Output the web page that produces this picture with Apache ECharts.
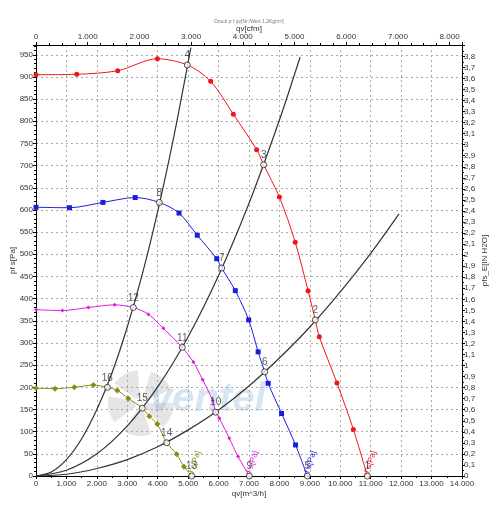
<!DOCTYPE html>
<html>
<head>
<meta charset="utf-8">
<script src="https://cdn.jsdelivr.net/npm/echarts@6/dist/echarts.min.js"></script>
<style>
  html, body { margin: 0; padding: 0; background: #fff; }
  #main { width: 498px; height: 513px; }
</style>
</head>
<body>
<div id="main"></div>
<script>
// fan curves: measured points [q m3/h, p Pa]
var redPts = [[0,905],[1340,906],[2685,914],[3990,941],[5740,890],[6485,816],[7250,736],[8000,629],[8520,527],[8940,418],[9310,314],[9890,210],[10430,105]];
var bluePts = [[0,606],[1100,605],[2200,617],[3260,628],[4700,593],[5300,543],[5940,490],[6550,418],[6990,352],[7300,280],[7630,209],[8070,141],[8530,70]];
var magentaPts = [[0,375],[866,373],[1720,380],[2585,386],[3691,365],[4184,333],[5170,257],[5477,217],[5806,170],[6025,130],[6354,85],[6640,44]];
var olivePts = [[0,198],[624,197],[1260,200],[1884,205],[2672,193],[3033,175],[3724,135],[3987,117],[4623,49],[4864,21]];

// operating points (intersection with system curves)
var redOps = [[4973,927],[7482,702],[9180,352],[10890,0]];
var blueOps = [[4053,617],[6102,469],[7515,235],[8916,0]];
var magentaOps = [[3198,380],[4808,290],[5905,144],[7010,0]];
var oliveOps = [[2344,200],[3494,153],[4294,75],[5116,0]];
var redOpLabels = ['4','3','2','1'];
var blueOpLabels = ['8','7','6','5'];
var magentaOpLabels = ['12','11','10','9'];
var oliveOpLabels = ['16','15','14','13'];

// system curves
var sysSteep = [[0,0],[500,9],[1000,37],[1500,84],[2000,150],[2500,233],[3000,336],[3500,457],[4000,597],[4500,755],[5090,966]];
var sysMid = [[0,0],[1000,13],[2000,50],[3000,113],[4000,201],[5000,314],[6000,452],[7000,615],[8000,803],[8680,945]];
var sysFlat = [[0,0],[1000,4],[2000,17],[3000,37],[4000,66],[5000,104],[6000,149],[7000,203],[8000,266],[9000,336],[10000,415],[11000,502],[11930,591]];

var curveLabel = 'pf s[Pa]';
var FONT = '"Liberation Sans", Arial, sans-serif';

function fmtDot(v) {
  if (v === 0) return '0';
  var k = Math.floor(v / 1000), r = Math.round(v % 1000);
  return k + '.' + ('00' + r).slice(-3);
}
function fmtComma(v) {
  if (v > 3.85) return '';
  return String(Math.round(v * 10) / 10).replace('.', ',');
}

function fanSeries(name, pts, ops, color, symbol, size) {
  var data = pts.map(function (p) { return { value: p }; })
    .concat(ops.map(function (p) { return { value: p, symbol: 'none' }; }));
  data.sort(function (a, b) { return a.value[0] - b.value[0]; });
  var last = data[data.length - 1];
  last.symbol = 'circle';
  last.symbolSize = 2;
  last.itemStyle = { color: 'transparent' };
  last.label = {
    show: true, formatter: curveLabel, rotate: 73, position: 'right',
    align: 'left', verticalAlign: 'top', offset: [-2, -7], distance: 1,
    color: color, fontSize: 8, fontFamily: FONT
  };
  return {
    name: name, type: 'line', smooth: 0.3, data: data,
    symbol: symbol, symbolSize: size, showAllSymbol: true,
    lineStyle: { color: color, width: 1 },
    itemStyle: { color: color },
    z: 3
  };
}

function sysSeries(pts) {
  return {
    type: 'line', smooth: 0.3, data: pts, symbol: 'none',
    lineStyle: { color: '#333', width: 1.2 }, z: 2
  };
}

function opSeries(ops, labels) {
  return {
    type: 'scatter', symbol: 'circle', symbolSize: 6, z: 5,
    data: ops.map(function (p, i) { return { value: p, name: labels[i] }; }),
    itemStyle: { color: '#fff', borderColor: '#222', borderWidth: 1 },
    label: { show: true, position: 'top', distance: 1, formatter: '{b}', color: '#333', fontSize: 10, fontFamily: FONT }
  };
}

var blades = [];
for (var i = 0; i < 5; i++) {
  blades.push({
    type: 'sector',
    shape: { cx: 32, cy: 32, r: 33, r0: 6, startAngle: (i * 72) * Math.PI / 180, endAngle: (i * 72 + 48) * Math.PI / 180 },
    style: { fill: 'rgba(150,150,150,0.25)' }
  });
}

var nameStyle = { fontSize: 8, color: '#333' };

var myChart = echarts.init(document.getElementById('main'), null, { renderer: 'canvas' });
var option = {
  animation: false,
  textStyle: { fontFamily: FONT },
  title: {
    text: 'Druck p f qv[Nr./Wert 1,2Kg/m³]', left: 'center', top: 14,
    textStyle: { fontSize: 5, color: '#777', fontWeight: 'normal', fontFamily: FONT }
  },
  grid: { left: 36, right: 36, top: 45, bottom: 37, outerBoundsMode: 'none', containLabel: false },
  graphic: [
    { type: 'group', left: 108, top: 370, z: 0, children: blades },
    { type: 'text', left: 150, top: 380, z: 0,
      style: { text: 'ventel', font: 'italic bold 40px "Liberation Sans", Arial', fill: 'rgba(140,180,220,0.35)' } }
  ],
  xAxis: [
    {
      type: 'value', position: 'bottom', min: 0, max: 14000, interval: 1000,
      name: 'qv[m^3/h]', nameLocation: 'middle', nameGap: 14, nameMoveOverlap: false,
      nameTextStyle: nameStyle,
      axisLine: { show: true, onZero: false, lineStyle: { color: '#000' } },
      axisTick: { show: true, length: 3, lineStyle: { color: '#000' } },
      minorTick: { show: true, splitNumber: 2, length: 2, lineStyle: { color: '#000' } },
      axisLabel: { fontSize: 8, color: '#333', margin: 4, formatter: fmtDot },
      splitLine: { show: true, lineStyle: { color: '#aaa', type: [2, 3] } }
    },
    {
      type: 'value', position: 'top', min: 0, max: 8240, interval: 1000,
      name: 'qv[cfm]', nameLocation: 'middle', nameGap: 12, nameMoveOverlap: false,
      nameTextStyle: nameStyle,
      axisLine: { show: true, onZero: false, lineStyle: { color: '#000' } },
      axisTick: { show: true, length: 3, lineStyle: { color: '#000' } },
      minorTick: { show: true, splitNumber: 4, length: 2, lineStyle: { color: '#000' } },
      axisLabel: { fontSize: 8, color: '#333', margin: 4, formatter: fmtDot, showMaxLabel: false },
      splitLine: { show: false }
    }
  ],
  yAxis: [
    {
      type: 'value', position: 'left', min: 0, max: 972, interval: 50,
      name: 'pf s[Pa]', nameLocation: 'middle', nameGap: 19, nameRotate: 90, nameMoveOverlap: false,
      nameTextStyle: nameStyle,
      axisLine: { show: true, onZero: false, lineStyle: { color: '#000' } },
      axisTick: { show: true, length: 3, lineStyle: { color: '#000' } },
      minorTick: { show: true, splitNumber: 5, length: 2, lineStyle: { color: '#000' } },
      axisLabel: { fontSize: 8, color: '#333', margin: 3, showMaxLabel: false },
      splitLine: { show: true, lineStyle: { color: '#aaa', type: [2, 3] } }
    },
    {
      type: 'value', position: 'right', min: 0, max: 3.9026, interval: 0.1,
      name: 'pfs_E[IN H2O]', nameLocation: 'middle', nameGap: 19, nameRotate: 90, nameMoveOverlap: false,
      nameTextStyle: nameStyle,
      axisLine: { show: true, onZero: false, lineStyle: { color: '#000' } },
      axisTick: { show: true, length: 3, lineStyle: { color: '#000' } },
      minorTick: { show: true, splitNumber: 2, length: 2, lineStyle: { color: '#000' } },
      axisLabel: { fontSize: 8, color: '#333', margin: 2, interval: 0, showMaxLabel: false, formatter: fmtComma },
      splitLine: { show: false }
    }
  ],
  series: [
    sysSeries(sysSteep), sysSeries(sysMid), sysSeries(sysFlat),
    fanSeries('red', redPts, redOps, '#f0161e', 'circle', 5),
    fanSeries('blue', bluePts, blueOps, '#1c1ce0', 'rect', 5),
    fanSeries('magenta', magentaPts, magentaOps, '#e01ae0', 'diamond', 4),
    fanSeries('olive', olivePts, oliveOps, '#8c8c14', 'diamond', 6),
    opSeries(redOps, redOpLabels), opSeries(blueOps, blueOpLabels),
    opSeries(magentaOps, magentaOpLabels), opSeries(oliveOps, oliveOpLabels)
  ]
};
myChart.setOption(option);
</script>
</body>
</html>
